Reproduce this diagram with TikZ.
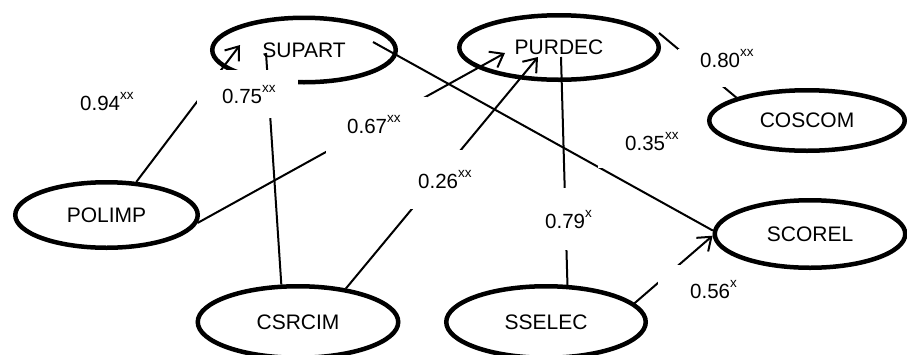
\documentclass[tikz,border=0pt]{standalone}
\usepackage{fontspec}
\setmainfont{Liberation Sans}
\usetikzlibrary{arrows.meta,shapes.geometric,calc}
\newcommand\supx[1]{\raisebox{10.5pt}{\fontsize{13.5}{13.5}\selectfont #1}}
\begin{document}
\begin{tikzpicture}[x=1pt,y=-1pt,
  lat/.style={draw, ellipse, line width=4.5pt, inner sep=0pt, font=\fontsize{21}{25}\selectfont},
  conn/.style={line width=2pt},
  arr/.style={conn, -{Straight Barb[length=12pt,width=18pt]}},
  val/.style={anchor=base west, inner sep=0pt, font=\fontsize{20.5}{24}\selectfont},
  mask/.style={fill=white}]
\useasboundingbox (0,0) rectangle (907,354);

% constructs
\node[lat, minimum width=183.5pt, minimum height=64.5pt] (SUPART) at (304,50) {SUPART};
\node[lat, minimum width=199.5pt, minimum height=64.5pt] (PURDEC) at (559,47.5) {PURDEC};
\node[lat, minimum width=195.5pt, minimum height=60.5pt] (COSCOM) at (807,120.5) {COSCOM};
\node[lat, minimum width=182.5pt, minimum height=65.5pt] (POLIMP) at (106.5,215) {POLIMP};
\node[lat, minimum width=200.5pt, minimum height=71.5pt] (CSRCIM) at (298,322) {CSRCIM};
\node[lat, minimum width=199.5pt, minimum height=71.5pt] (SSELEC) at (546,322) {SSELEC};
\node[lat, minimum width=190.5pt, minimum height=67.5pt] (SCOREL) at (810,234) {SCOREL};

% free ends of connectors
\coordinate (t1) at ($(SUPART)+(-64,-5)$);
\coordinate (e2) at ($(SUPART)+(-38,3)$);
\coordinate (t3) at ($(PURDEC)+(-54,5.5)$);
\coordinate (t4) at ($(PURDEC)+(-21,9.5)$);
\coordinate (s5) at ($(SUPART)+(69,-8)$);
\coordinate (s6) at ($(PURDEC)+(2,9.5)$);
\coordinate (s8) at ($(PURDEC)+(100,-14.5)$);

% connectors
\draw[arr]  (POLIMP.48)  -- (t1);
\draw[conn] (CSRCIM.114) -- (e2);
\draw[arr]  (POLIMP.355) -- (t3);
\draw[arr]  (CSRCIM.35)  -- (t4);
\draw[conn] (s5) -- (SCOREL.178);
\draw[conn] (s6) -- (SSELEC.60);
\draw[arr]  (SSELEC.12)  -- (SCOREL.181);
\draw[conn] (s8) -- (COSCOM.162);

% white label boxes
\fill[mask] (197,70) rectangle (298,118);
\fill[mask] (326,97) rectangle (427,153);
\fill[mask] (400,150) rectangle (490,209);
\fill[mask] (525,188) rectangle (610,250);
\fill[mask] (598,110) rectangle (704,167.5);
\fill[mask] (678,49) rectangle (770,87);
\fill[mask] (658,265) rectangle (755,315);

% coefficients
\node[val] (L94) at (80,110)  {0.94\supx{xx}};
\node[val] (L75) at (222,103) {0.75\supx{xx}};
\node[val] (L67) at (347,133) {0.67\supx{xx}};
\node[val] (L26) at (418,188) {0.26\supx{xx}};
\node[val] (L80) at (700,67)  {0.80\supx{xx}};
\node[val] (L35) at (625,150) {0.35\supx{xx}};
\node[val] (L79) at (545,228) {0.79\supx{x}};
\node[val] (L56) at (690,298) {0.56\supx{x}};
\end{tikzpicture}
\end{document}
